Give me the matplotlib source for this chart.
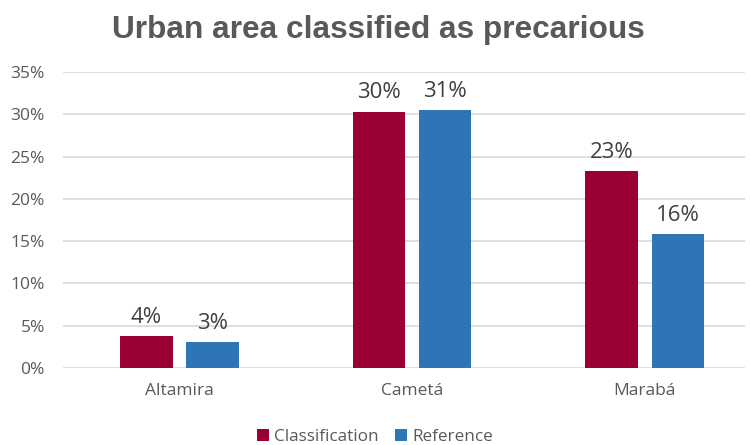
import matplotlib
matplotlib.use("Agg")
import matplotlib.pyplot as plt
import numpy as np

categories = ["Altamira", "Cametá", "Marabá"]
classification = [3.75, 30.3, 23.3]
reference = [3.05, 30.5, 15.8]
class_labels = ["4%", "30%", "23%"]
ref_labels = ["3%", "31%", "16%"]
yticks = [0, 5, 10, 15, 20, 25, 30, 35]
series_names = ["Classification", "Reference"]

c_class = "#9A0032"
c_ref = "#2E75B6"
txt = "#595959"

W, H = 750, 445
fig = plt.figure(figsize=(W / 100, H / 100), dpi=100)
ax = fig.add_axes([63 / W, 1 - 368 / H, (745 - 63) / W, (368 - 72) / H])

x = np.arange(len(categories))
bw = 0.224
off = 0.142
b1 = ax.bar(x - off, classification, bw, color=c_class, label=series_names[0], zorder=3)
b2 = ax.bar(x + off, reference, bw, color=c_ref, label=series_names[1], zorder=3)

for bars, labs in ((b1, class_labels), (b2, ref_labels)):
    for r, lab in zip(bars, labs):
        ax.annotate(lab, (r.get_x() + r.get_width() / 2, r.get_height()),
                    xytext=(0, 6), textcoords="offset points", ha="center", va="bottom",
                    fontsize=16, color="#404040", family="Open Sans")

ax.set_ylim(0, 35)
ax.set_xlim(-0.501, 2.432)
ax.set_yticks(yticks)
ax.set_yticklabels([f"{t}%" for t in yticks])
ax.set_xticks(x)
ax.set_xticklabels(categories)
ax.tick_params(axis="both", length=0, colors=txt, labelsize=12.5)
ax.tick_params(axis="y", pad=13)
ax.tick_params(axis="x", pad=11)
for lab in ax.get_xticklabels() + ax.get_yticklabels():
    lab.set_family("Open Sans")
for s in ax.spines.values():
    s.set_visible(False)
ax.grid(axis="y", color="#D9D9D9", linewidth=1.2, zorder=0)

fig.text(0.505, 1 - 30 / H, "Urban area classified as precarious", ha="center", va="center",
         fontsize=22.8, fontweight="bold", color="#595959", family="Liberation Sans")

leg = fig.legend(handles=[b1, b2], labels=series_names, loc="center", bbox_to_anchor=(0.5, 1 - 437 / H),
                 ncol=2, frameon=False, handlelength=0.7, handleheight=0.7,
                 handletextpad=0.3, columnspacing=1.0, prop={"family": "Open Sans", "size": 12.3})
for t in leg.get_texts():
    t.set_color(txt)

fig.savefig("out.png", dpi=100, facecolor="white")
